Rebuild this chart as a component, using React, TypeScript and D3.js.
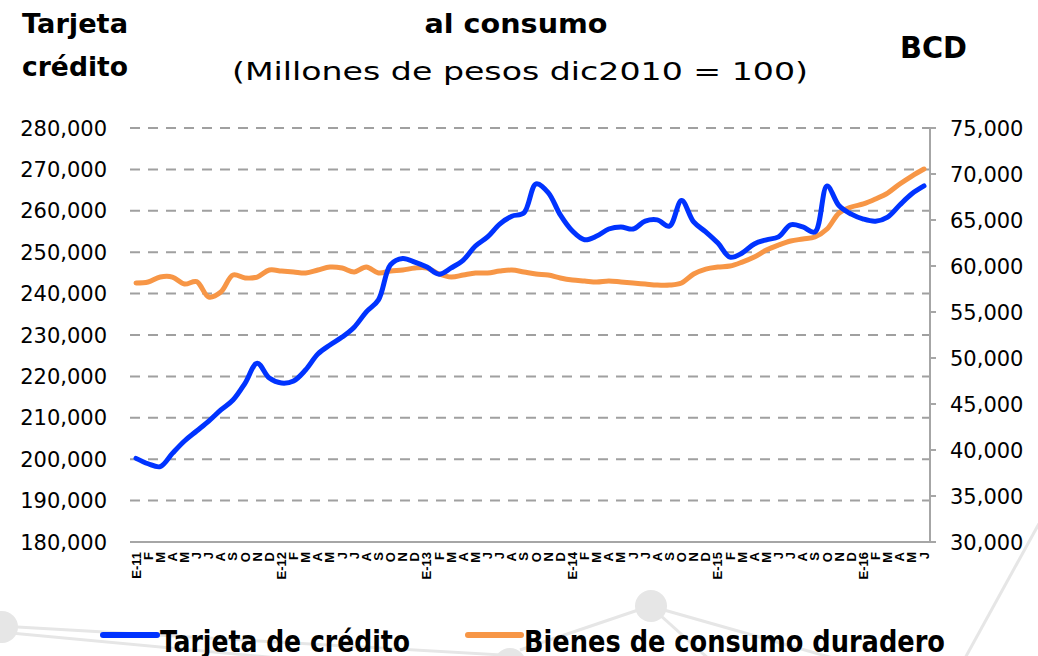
import React from 'react';
import * as d3 from 'd3';

const monthLetters = ['E', 'F', 'M', 'A', 'M', 'J', 'J', 'A', 'S', 'O', 'N', 'D'];
const years = ['11', '12', '13', '14', '15', '16'];
const categories: string[] = [];
years.forEach((y) =>
  monthLetters.forEach((m, i) => {
    if (y === '16' && i > 5) return;
    categories.push(i === 0 ? `E-${y}` : m);
  })
);

const tarjeta = [
  200200, 198900, 198200, 201400, 204400, 206800, 209200, 211900, 214300, 218400,
  223200, 219600, 218400, 218900, 221600, 225400, 227600, 229500, 231900, 235600,
  238500, 247000, 248500, 247600, 246400, 244700, 246200, 248100, 251500, 253700,
  256800, 258700, 259500, 266500, 264400, 259000, 255100, 253000, 253900, 255600,
  256100, 255600, 257500, 257800, 256300, 262500, 257300, 254900, 252200, 248800,
  249800, 252000, 253000, 253700, 256600, 256100, 254900, 266000, 261200, 259200,
  258000, 257500, 258500, 261400, 264100, 266000,
];

const bienes = [
  58150, 58260, 58800, 58800, 58040, 58300, 56630, 57170, 59020, 58700,
  58800, 59560, 59450, 59350, 59240, 59560, 59890, 59780, 59350, 59890,
  59240, 59450, 59560, 59780, 59780, 59130, 58800, 59020, 59240, 59240,
  59450, 59560, 59350, 59130, 59020, 58700, 58480, 58370, 58260, 58370,
  58260, 58150, 58040, 57930, 57930, 58150, 59130, 59670, 59890, 60000,
  60430, 60980, 61740, 62280, 62720, 62930, 63150, 64020, 65760, 66410,
  66740, 67280, 67930, 68910, 69780, 70540,
];

const leftTicks = [180000, 190000, 200000, 210000, 220000, 230000, 240000, 250000, 260000, 270000, 280000];
const rightTicks = [30000, 35000, 40000, 45000, 50000, 55000, 60000, 65000, 70000, 75000];

const seriesNames = ['Tarjeta de crédito', 'Bienes de consumo duradero'];
const colors = ['#0033ff', '#f79646'];

const W = 1038;
const H = 656;
const plotL = 130;
const plotR = 930;
const plotT = 128;
const plotB = 542;

export default function App() {
  const idx = categories.map((_, i) => i);
  const x = d3.scalePoint<number>().domain(idx).range([136, 924]);
  const yL = d3.scaleLinear().domain([180000, 280000]).range([plotB, plotT]);
  const yR = d3.scaleLinear().domain([30000, 75000]).range([plotB, plotT]);
  const fmt = d3.format(',');

  const curve = d3.curveCatmullRom.alpha(0.5);
  const lineL = d3
    .line<number>()
    .x((_, i) => x(i) as number)
    .y((d) => yL(d))
    .curve(curve);
  const lineR = d3
    .line<number>()
    .x((_, i) => x(i) as number)
    .y((d) => yR(d))
    .curve(curve);

  const deco = '#e6e6e6';
  const numFont = "'DejaVu Sans', sans-serif";

  return (
    <svg
      width={W}
      height={H}
      viewBox={`0 0 ${W} ${H}`}
      style={{ position: 'absolute', left: 0, top: 0, background: '#fff' }}
    >
      <rect x={0} y={0} width={W} height={H} fill="#fff" />
      {/* background decorations */}
      <g stroke={deco} strokeWidth={3} fill="none">
        <line x1={0} y1={626} x2={520} y2={656} />
        <line x1={0} y1={632} x2={300} y2={660} />
        <line x1={650} y1={606} x2={520} y2={650} />
        <line x1={650} y1={606} x2={840} y2={660} />
        <line x1={650} y1={606} x2={710} y2={660} />
        <line x1={1042} y1={518} x2={964} y2={660} />
      </g>
      <g fill={deco}>
        <circle cx={2} cy={627} r={16} />
        <circle cx={651} cy={606} r={16} />
        <circle cx={510} cy={664} r={16} />
      </g>

      {/* titles */}
      <text x={22} y={33} fontFamily={numFont} fontWeight="bold" fontSize={27} fill="#000" textLength={106} lengthAdjust="spacingAndGlyphs">Tarjeta</text>
      <text x={22} y={76} fontFamily={numFont} fontWeight="bold" fontSize={27} fill="#000" textLength={106} lengthAdjust="spacingAndGlyphs">crédito</text>
      <text x={516} y={33} textAnchor="middle" fontFamily={numFont} fontWeight="bold" fontSize={27} fill="#000" textLength={183} lengthAdjust="spacingAndGlyphs">al consumo</text>
      <text x={520} y={80} textAnchor="middle" fontFamily={numFont} fontSize={25} fill="#000" textLength={576} lengthAdjust="spacingAndGlyphs">(Millones de pesos dic2010 = 100)</text>
      <text x={900} y={58} fontFamily={numFont} fontWeight="bold" fontSize={30} fill="#000" textLength={67} lengthAdjust="spacingAndGlyphs">BCD</text>

      {/* grid lines */}
      {leftTicks.slice(1).map((t) => (
        <line key={t} x1={plotL} x2={plotR} y1={yL(t)} y2={yL(t)} stroke="#a0a0a0" strokeWidth={2} strokeDasharray="10 8" />
      ))}
      {/* bottom axis */}
      <line x1={plotL} x2={plotR} y1={plotB} y2={plotB} stroke="#a6a6a6" strokeWidth={2} />
      {/* right axis */}
      <line x1={plotR} x2={plotR} y1={plotT} y2={plotB + 1} stroke="#a6a6a6" strokeWidth={2} />
      {rightTicks.map((t) => (
        <line key={t} x1={plotR} x2={plotR + 6} y1={yR(t)} y2={yR(t)} stroke="#a6a6a6" strokeWidth={2} />
      ))}

      {/* left tick labels */}
      {leftTicks.map((t) => (
        <text key={t} x={107} y={yL(t)} dy="0.36em" textAnchor="end" fontFamily={numFont} fontSize={21} fill="#000">
          {fmt(t)}
        </text>
      ))}
      {/* right tick labels */}
      {rightTicks.map((t) => (
        <text key={t} x={950} y={yR(t)} dy="0.36em" textAnchor="start" fontFamily={numFont} fontSize={21} fill="#000">
          {fmt(t)}
        </text>
      ))}

      {/* x labels */}
      {categories.map((c, i) => (
        <text
          key={i}
          transform={`translate(${(x(i) as number) + 4.5},552) rotate(-90)`}
          textAnchor="end"
          fontFamily="'Liberation Sans', Arial, sans-serif"
          fontWeight="bold"
          fontSize={13}
          fill="#000"
        >
          {c}
        </text>
      ))}

      {/* series */}
      <path d={lineR(bienes) || ''} fill="none" stroke={colors[1]} strokeWidth={5} strokeLinecap="round" strokeLinejoin="round" />
      <path d={lineL(tarjeta) || ''} fill="none" stroke={colors[0]} strokeWidth={5} strokeLinecap="round" strokeLinejoin="round" />

      {/* legend */}
      <line x1={103} x2={157} y1={635} y2={635} stroke={colors[0]} strokeWidth={6} strokeLinecap="round" />
      <text x={160} y={652} fontFamily="'DejaVu Sans Condensed', 'DejaVu Sans', sans-serif" fontWeight="bold" fontSize={31} fill="#000" textLength={250} lengthAdjust="spacingAndGlyphs">
        {seriesNames[0]}
      </text>
      <line x1={468} x2={521} y1={635} y2={635} stroke={colors[1]} strokeWidth={6} strokeLinecap="round" />
      <text x={524} y={652} fontFamily="'DejaVu Sans Condensed', 'DejaVu Sans', sans-serif" fontWeight="bold" fontSize={31} fill="#000" textLength={421} lengthAdjust="spacingAndGlyphs">
        {seriesNames[1]}
      </text>
    </svg>
  );
}
